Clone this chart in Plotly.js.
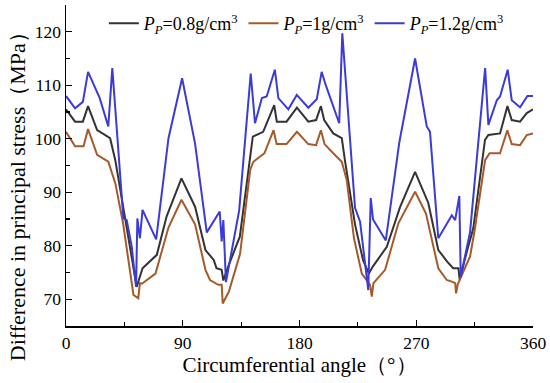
<!DOCTYPE html>
<html>
<head>
<meta charset="utf-8">
<script src="https://cdn.plot.ly/plotly-3.0.1.min.js"></script>
<style>html,body{margin:0;padding:0;background:#fff;}#chart{width:550px;height:383px;}</style>
</head>
<body>
<div id="chart"></div>
<script>
// Series names
const seriesNames = [
  '<i>P</i><sub><i>P</i></sub>=0.8g/cm<sup>3</sup>',
  '<i>P</i><sub><i>P</i></sub>=1g/cm<sup>3</sup>',
  '<i>P</i><sub><i>P</i></sub>=1.2g/cm<sup>3</sup>'
];

// P_P = 0.8 g/cm3
const angle08 = [0, 7, 13, 17, 24, 34, 38, 44, 49, 54.5, 59, 70, 77.6, 89, 99.5, 107.5, 114, 116, 120, 121.3, 125, 134, 144, 152, 160.5, 162.5, 170, 178, 186.8, 192.8, 196.5, 199, 206, 212.6, 215, 222.8, 229, 233.5, 236.5, 247.3, 257.5, 269.1, 279.3, 287, 294, 298.5, 302.5, 303.5, 309, 314, 323, 325.6, 334.6, 340.3, 343.6, 350, 355.2, 360];
const stress08 = [105.5, 103.2, 103.2, 106.1, 101.6, 100.1, 96.0, 87.3, 79.8, 72.3, 75.8, 78.3, 85.5, 92.6, 87.3, 79.2, 77.3, 75.8, 75.5, 73.5, 76.1, 81.7, 100.4, 101.3, 106.3, 103.2, 103.2, 105.8, 103.2, 103.5, 106.1, 103.5, 101.0, 100.1, 96.0, 84.0, 77.3, 74.8, 76.1, 79.8, 87.2, 93.8, 88.0, 79.2, 77.0, 75.8, 75.8, 73.6, 78.9, 83.3, 99.8, 100.7, 101.0, 106.1, 103.5, 103.2, 104.8, 105.5];

// P_P = 1 g/cm3
const angle10 = [0, 7, 13.5, 17, 24, 32.6, 38, 44, 52, 55.7, 57, 58.5, 69, 79, 89, 99.5, 107.5, 111, 117.4, 120, 120.8, 125.5, 134.2, 142, 144.4, 153, 160, 162.4, 170, 178, 186.8, 192.8, 196.5, 199.3, 206, 212.6, 216.4, 222, 228, 234.4, 235.7, 237, 246, 256.2, 269.1, 277.5, 287, 293.5, 297.4, 300, 300.7, 302, 311.5, 315, 323.1, 326.5, 334.6, 340.2, 343.6, 350, 355.2, 360];
const stress10 = [101.3, 98.6, 98.6, 101.8, 97.0, 95.7, 91.7, 84.2, 70.8, 70.2, 73.0, 72.9, 74.8, 83.4, 88.6, 84.0, 75.5, 73.6, 72.7, 72.7, 69.2, 71.4, 78.5, 94.2, 95.7, 97.3, 101.6, 99.0, 99.0, 101.3, 99.0, 98.8, 101.6, 99.0, 97.3, 95.7, 92.3, 81.4, 74.8, 72.7, 70.5, 73.0, 75.5, 84.2, 90.1, 86.0, 75.8, 73.6, 73.3, 73.0, 71.1, 72.8, 78.0, 82.9, 96.0, 97.3, 97.3, 101.6, 99.0, 98.8, 100.7, 101.0];

// P_P = 1.2 g/cm3
const angle12 = [0, 7, 13, 17, 26, 32.6, 35.7, 44.2, 46.8, 50.7, 54, 55, 57, 59, 69.5, 79, 89.5, 99.5, 108.5, 118.5, 120, 121.3, 123.3, 133.5, 142.4, 145.7, 151, 154.7, 161, 163.7, 171.4, 177.9, 186.8, 193.3, 197.1, 200, 210.6, 213, 222.8, 226.7, 233, 234.9, 236.7, 246.5, 257, 269.1, 278.1, 280.6, 287, 297.4, 300, 303.2, 304.3, 311.5, 323.1, 325.6, 332.1, 334.6, 340.5, 343.6, 350, 355.7, 360];
const stress12 = [108.0, 105.7, 106.9, 112.5, 107.6, 102.3, 113.2, 85.1, 84.8, 79.8, 72.3, 85.1, 81.4, 86.7, 81.2, 100.1, 111.3, 99.1, 82.5, 86.4, 80.8, 84.8, 73.2, 86.6, 112.2, 102.9, 107.6, 107.9, 112.9, 107.6, 105.5, 108.2, 105.8, 107.4, 112.5, 110.2, 102.9, 119.7, 87.1, 84.5, 71.7, 88.9, 84.9, 81.0, 99.4, 115.0, 102.3, 101.3, 81.4, 85.7, 84.8, 89.3, 74.2, 82.6, 113.2, 102.6, 107.2, 107.9, 112.9, 107.2, 105.9, 108.0, 108.0];

// Axis ticks and titles
const xTicks = [0, 90, 180, 270, 360];
const yTicks = [70, 80, 90, 100, 110, 120];
const xTitle = 'Circumferential angle（°）';
const yTitle = 'Difference in principal stress（MPa）';

const colors = ['#333333', '#a65a2c', '#3b3bd8'];
const font = 'Liberation Serif, Times New Roman, serif';

const traces = [
  {x: angle08, y: stress08, name: seriesNames[0]},
  {x: angle10, y: stress10, name: seriesNames[1]},
  {x: angle12, y: stress12, name: seriesNames[2]}
].map((t, i) => Object.assign(t, {
  type: 'scatter', mode: 'lines',
  line: {color: colors[i], width: 2}
}));

const layout = {
  width: 550, height: 383,
  margin: {l: 66, r: 17, t: 5, b: 57},
  paper_bgcolor: '#fff', plot_bgcolor: '#fff',
  font: {family: font, size: 17, color: '#000'},
  showlegend: true,
  legend: {
    orientation: 'h', x: 0.081, y: 1.0, xanchor: 'left', yanchor: 'top',
    bgcolor: 'rgba(0,0,0,0)', font: {family: font, size: 18, color: '#000'},
    tracegroupgap: 0, itemwidth: 30
  },
  xaxis: {
    range: [0, 360], tickvals: xTicks, ticktext: xTicks.map(String),
    ticks: 'inside', ticklen: 6, tickwidth: 1.2, tickcolor: '#000',
    minor: {tickvals: [45, 135, 225, 315], ticks: 'inside', ticklen: 4, tickcolor: '#000', tickwidth: 1.2},
    showline: true, linecolor: '#000', linewidth: 1.5, showgrid: false, zeroline: false,
    tickfont: {family: font, size: 17.5, color: '#000'},
    title: {text: xTitle, font: {family: font, size: 21, color: '#000'}, standoff: 6}
  },
  yaxis: {
    range: [65, 125], tickvals: yTicks, ticktext: yTicks.map(String),
    ticks: 'inside', ticklen: 6, tickwidth: 1.2, tickcolor: '#000',
    minor: {tickvals: [65, 75, 85, 95, 105, 115, 125], ticks: 'inside', ticklen: 4, tickcolor: '#000', tickwidth: 1.2},
    showline: true, linecolor: '#000', linewidth: 1.5, showgrid: false, zeroline: false,
    tickfont: {family: font, size: 17.5, color: '#000'}
  },
  annotations: [{
    text: yTitle, textangle: -90, showarrow: false,
    xref: 'paper', yref: 'paper', x: -0.105, y: 0.42,
    xanchor: 'center', yanchor: 'middle',
    font: {family: font, size: 22, color: '#000'}
  }]
};

Plotly.newPlot('chart', traces, layout, {displayModeBar: false, staticPlot: true});
</script>
</body>
</html>
